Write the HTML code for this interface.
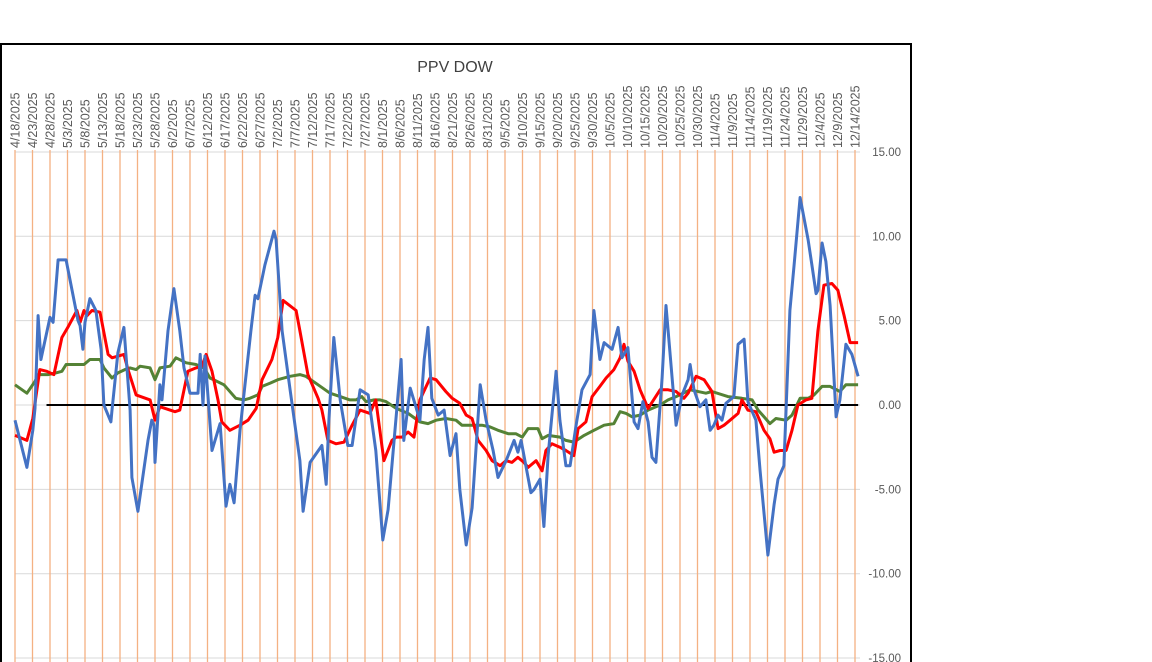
<!DOCTYPE html>
<html><head><meta charset="utf-8">
<style>
html,body{margin:0;padding:0;background:#fff;width:1152px;height:662px;overflow:hidden}
svg{display:block;font-family:"Liberation Sans",sans-serif}
</style></head>
<body>
<svg id="chart" width="1152" height="662" viewBox="0 0 1152 662">
<rect x="1" y="44" width="910" height="630" fill="#fff" stroke="#000" stroke-width="2"/>
<text x="455" y="72" text-anchor="middle" font-size="16" fill="#404040">PPV DOW</text>
<g id="grid"></g><g id="xlabels"></g><g id="ylabels"></g><g id="zero"></g><g id="series"></g>
</svg>
<script>
const tickValues=[15,10,5,0,-5,-10,-15];
const tickLabels=["15.00","10.00","5.00","0.00","-5.00","-10.00","-15.00"];
const startDate=new Date(2025,3,18);
const labelStepDays=5;
const labelCount=49;
const blueSeries=[[0,-0.9],[3.4,-3.7],[5.1,-1.5],[5.7,-0.2],[6.6,5.3],[7.4,2.7],[10,5.2],[10.9,4.9],[12.3,8.6],[14.6,8.6],[18,5.0],[18.6,4.7],[19.4,3.3],[20,4.9],[21.4,6.3],[23.1,5.6],[24.6,3.3],[25.4,0],[27.4,-1.0],[27.7,-0.3],[29.4,3.1],[31.1,4.6],[32.9,-0.3],[33.4,-4.3],[35.1,-6.3],[38,-2.1],[39.1,-0.9],[39.7,-1.2],[40,-3.4],[41.4,1.2],[42,0.3],[43.7,4.4],[45.4,6.9],[47.1,4.4],[48.3,2.2],[50,0.7],[52.3,0.7],[52.9,3.0],[53.7,0],[54.3,2.9],[56.3,-2.7],[58.6,-1.1],[60.3,-6.0],[61.4,-4.7],[62.6,-5.8],[64.3,-1.5],[67.4,4.4],[68.6,6.5],[69.4,6.3],[71.4,8.3],[74,10.3],[74.6,9.8],[76.3,4.4],[78.6,0.9],[81.4,-3.3],[82.3,-6.3],[84.3,-3.4],[87.7,-2.4],[88.9,-4.7],[89.7,-0.9],[91.1,4.0],[92.9,0.3],[95.1,-2.4],[96.3,-2.4],[98.6,0.9],[100.9,0.6],[103.1,-2.7],[105.1,-8.0],[106.6,-6.2],[108.3,-2.1],[110.3,2.7],[111.1,-2.1],[112.9,1.0],[115.7,-0.9],[116.9,2.7],[118,4.6],[119.1,0.4],[120.9,-0.6],[122.6,-0.3],[124.3,-3.0],[126,-1.7],[127.1,-5.0],[128.9,-8.3],[130.6,-6.1],[132.9,1.2],[134.6,-0.9],[136.6,-2.7],[138,-4.3],[140.3,-3.3],[142.6,-2.1],[143.7,-2.8],[144.6,-2.1],[147.4,-5.2],[148.3,-5.0],[150,-4.4],[151.1,-7.2],[152.3,-3.0],[154.6,2.0],[155.7,-0.9],[157.4,-3.6],[158.6,-3.6],[160.3,-1.2],[162,0.9],[164.3,1.8],[165.4,5.6],[167.1,2.7],[168.3,3.7],[170.6,3.3],[172.3,4.6],[173.4,2.8],[175.1,3.4],[176.9,-1.0],[178,-1.4],[179.4,0.2],[180.9,-1.0],[182,-3.1],[183.1,-3.4],[184.9,1.6],[186,5.9],[188.9,-1.2],[190.6,0.6],[192.3,1.5],[192.9,2.4],[194,0.9],[195.7,-0.1],[197.4,0.3],[198.6,-1.5],[199.7,-1.2],[200.9,-0.6],[202,-0.9],[203.1,0.1],[205.4,0.5],[206.6,3.6],[208.3,3.9],[209.4,0.2],[211.7,-0.9],[212.9,-3.9],[215.1,-8.9],[216.9,-5.9],[218,-4.4],[219.7,-3.6],[221.4,5.6],[222.6,8.3],[224.3,12.3],[226.6,9.8],[227.7,8.3],[228.9,6.6],[229.4,6.8],[230.6,9.6],[231.7,8.5],[232.9,5.9],[234.6,-0.7],[235.7,0.3],[237.4,3.6],[239.1,3.0],[240.9,1.7]];
const redSeries=[[0,-1.8],[3.4,-2.1],[5.1,-0.8],[7.1,2.1],[9.1,2.0],[11.1,1.8],[13.4,4.0],[15.1,4.6],[17.7,5.6],[18.6,4.9],[19.7,5.6],[20.6,5.3],[22,5.6],[24.3,5.5],[26.6,3.0],[27.7,2.8],[31.1,3.0],[32.3,2.1],[34.6,0.6],[38.6,0.3],[40,-0.9],[41.4,-0.1],[44.3,-0.3],[45.7,-0.4],[47.1,-0.3],[49.4,2.0],[51.7,2.2],[53.4,2.3],[54.6,3.0],[56.3,2.0],[58,0.3],[59.1,-1.0],[61.4,-1.5],[64.3,-1.2],[66.6,-0.9],[68.9,-0.2],[70.6,1.5],[73.4,2.7],[75.1,4.0],[76.6,6.2],[80.3,5.6],[81.4,4.4],[83.7,1.8],[86.6,0.4],[87.7,-0.3],[89.4,-2.1],[91.7,-2.3],[94,-2.2],[96.3,-1.2],[98.6,-0.3],[101.4,-0.5],[103.1,0.3],[105.4,-3.3],[107.7,-2.1],[108.9,-1.9],[110.6,-1.9],[112.3,-1.6],[114,-1.9],[115.7,0.3],[118.6,1.6],[120.3,1.5],[123.1,0.8],[124.9,0.4],[127.1,0.1],[128.9,-0.6],[130.6,-0.8],[132.3,-2.1],[134.6,-2.7],[136.3,-3.3],[138.6,-3.6],[140.3,-3.3],[142,-3.4],[143.7,-3.1],[145.4,-3.4],[146.6,-3.7],[148.9,-3.3],[150.6,-3.9],[151.7,-2.7],[153.4,-2.3],[155.7,-2.5],[157.4,-2.7],[159.7,-3.0],[160.9,-1.4],[163.1,-1.0],[164.9,0.5],[167.1,1.1],[168.9,1.6],[171.1,2.1],[172.9,2.8],[174,3.6],[175.1,2.6],[176.9,2.0],[178.6,0.9],[180.9,-0.2],[184.3,0.9],[186.6,0.9],[188.9,0.8],[191.1,0.4],[192.3,0.7],[194.6,1.7],[196.9,1.5],[199.1,0.8],[200.9,-1.4],[202.6,-1.2],[204.3,-0.9],[206.6,-0.5],[207.7,0.3],[209.4,-0.3],[211.7,-0.4],[214,-1.5],[215.7,-2.0],[216.9,-2.8],[218.6,-2.7],[220.3,-2.7],[222,-1.5],[223.7,0],[226,0.3],[227.7,0.4],[229.4,4.4],[231.1,7.1],[233.4,7.2],[235.1,6.8],[236.9,5.3],[238.6,3.7],[240.9,3.7]];
const greenSeries=[[0,1.2],[3.4,0.7],[5.7,1.4],[6.6,1.8],[9.4,1.8],[11.7,1.9],[13.4,2.0],[14.6,2.4],[17.4,2.4],[19.7,2.4],[21.4,2.7],[24.3,2.7],[25.4,2.2],[27.7,1.6],[29.4,1.9],[31.4,2.1],[32.9,2.2],[34.6,2.1],[35.7,2.3],[38.6,2.2],[40,1.5],[41.4,2.2],[44.3,2.3],[46,2.8],[48.9,2.5],[51.7,2.4],[54,2.2],[55.7,1.6],[59.7,1.2],[63.1,0.4],[65.4,0.3],[67.1,0.4],[69.4,0.6],[70.6,1.1],[72.9,1.3],[75.1,1.5],[78.6,1.7],[81.4,1.8],[83.1,1.7],[86.6,1.2],[90,0.7],[92.9,0.5],[95.7,0.3],[97.4,0.3],[99.1,0.5],[100.3,0.2],[102.6,0.3],[104.3,0.3],[106,0.2],[108.9,-0.2],[112.3,-0.5],[115.7,-1.0],[118,-1.1],[120.3,-0.9],[123.1,-0.8],[126,-0.9],[127.7,-1.2],[130,-1.2],[133.4,-1.2],[135.7,-1.3],[138,-1.5],[140.9,-1.7],[143.1,-1.7],[144.9,-1.9],[146.6,-1.4],[149.4,-1.4],[150.6,-2.0],[152.3,-1.8],[155.7,-1.9],[157.4,-2.1],[159.7,-2.2],[162.6,-1.8],[165.4,-1.5],[168.3,-1.2],[171.1,-1.1],[172.9,-0.4],[174.6,-0.5],[176.3,-0.7],[178.6,-0.6],[180.9,-0.3],[184.3,0],[186.6,0.3],[188.9,0.5],[192.9,0.9],[197.4,0.7],[199.1,0.8],[203.7,0.5],[207.7,0.4],[210.6,0.3],[212.3,-0.3],[214,-0.7],[215.7,-1.1],[217.4,-0.8],[220.3,-0.9],[222,-0.6],[224.3,0.4],[226.6,0.4],[228.3,0.6],[230.6,1.1],[232.9,1.1],[235.7,0.8],[237.4,1.2],[240.9,1.2]];
const zeroLineDays=[9,240.9];

const NS="http://www.w3.org/2000/svg";
const xS=d=>15+d*3.5;
const yS=v=>405-v*16.87;
function mk(tag,attrs,parent){const e=document.createElementNS(NS,tag);for(const k in attrs)e.setAttribute(k,attrs[k]);document.getElementById(parent).appendChild(e);return e;}

tickValues.forEach((v,i)=>{
  const l=mk('line',{x1:15,x2:860,y1:yS(v),y2:yS(v),stroke:'#d9d9d9','stroke-width':1},'grid');
  
  
  const t=mk('text',{x:901,y:yS(v)+4,'text-anchor':'end','font-size':11.5,fill:'#595959'},'ylabels');
  t.textContent=tickLabels[i];
  
  
});
for(let i=0;i<labelCount;i++){
  const d=i*labelStepDays;const x=xS(d);
  const g=mk('line',{x1:x,x2:x,y1:150,y2:662,stroke:'#f4b183','stroke-width':1.3},'grid');
  
  
  const dt=new Date(startDate.getTime()+d*86400000);
  const t=mk('text',{transform:`translate(${x+4.5},148) rotate(-90)`,'font-size':12.5,fill:'#595959'},'xlabels');
  t.textContent=(dt.getMonth()+1)+'/'+dt.getDate()+'/'+dt.getFullYear();
  
  
}
const z=mk('line',{x1:xS(zeroLineDays[0]),x2:xS(zeroLineDays[1]),y1:yS(0),y2:yS(0),stroke:'#000','stroke-width':2},'zero');


function line(data,color,name){
  const p=mk('polyline',{points:data.map(d=>xS(d[0]).toFixed(1)+','+yS(d[1]).toFixed(1)).join(' '),fill:'none',stroke:color,'stroke-width':3,'stroke-linejoin':'round'},'series');
  
  
}
line(greenSeries,'#548235','green-series-line');
line(redSeries,'#ff0000','red-series-line');
line(blueSeries,'#4472c4','blue-series-line');
</script>
</body></html>
